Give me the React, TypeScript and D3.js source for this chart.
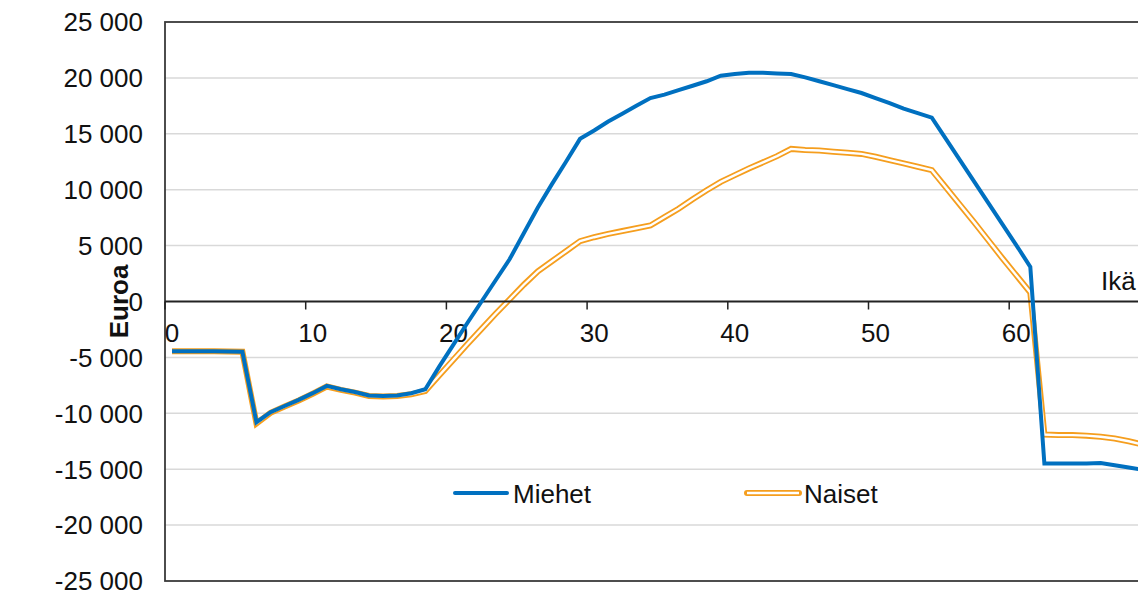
import React, {useEffect, useRef} from 'react';
import * as d3 from 'd3';

// Ikä 0..69
const ages = d3.range(0, 70);

const miehet = [
  -4450, -4450, -4450, -4450, -4480, -4500, -10800, -9900, -9350, -8800,
  -8200, -7550, -7850, -8100, -8400, -8450, -8400, -8200, -7850, -5800,
  -3850, -1900, 0, 1900, 3800, 6100, 8400, 10500, 12500, 14550,
  15300, 16100, 16800, 17500, 18200, 18500, 18900, 19300, 19700, 20200,
  20350, 20450, 20450, 20400, 20350, 20050, 19700, 19350, 19000, 18650,
  18200, 17750, 17250, 16850, 16450, 14550, 12650, 10750, 8850, 6950,
  5050, 3100, -14500, -14500, -14500, -14500, -14450, -14650, -14850, -15050,
];

const naiset = [
  -4450, -4450, -4450, -4450, -4480, -4500, -10900, -9950, -9400, -8850,
  -8250, -7600, -7900, -8150, -8450, -8500, -8450, -8300, -8000, -6600,
  -5200, -3800, -2450, -1100, 200, 1500, 2700, 3600, 4500, 5400,
  5750, 6050, 6300, 6550, 6800, 7550, 8300, 9150, 9950, 10700,
  11300, 11900, 12450, 13000, 13650, 13550, 13500, 13400, 13300, 13200,
  12950, 12650, 12350, 12050, 11750, 10200, 8650, 7100, 5500, 3900,
  2350, 800, -11900, -11950, -11950, -12000, -12100, -12250, -12500, -12800,
];

const yTicks = d3.range(-25000, 25001, 5000);
const xTicks = [0, 10, 20, 30, 40, 50, 60];

const BLUE = '#0070c0';
const ORANGE = '#f59e1e';
const FONT = 'Arial, "Liberation Sans", sans-serif';

const App: React.FC = () => {
  const svgRef = useRef<SVGSVGElement | null>(null);
  const width = 1138;
  const height = 593;

  useEffect(() => {
    if (!svgRef.current) return;
    const svg = d3.select(svgRef.current);
    svg.selectAll('*').remove();

    const left = 165;
    const top = 22;
    const bottom = 581;
    const step = 14.07;

    // category axis: tick at boundary k, point at centre k + 0.5
    const x = d3.scaleLinear().domain([0, 70]).range([left, left + 70 * step]);
    const y = d3.scaleLinear().domain([-25000, 25000]).range([bottom, top]);

    const fmt = d3
      .formatLocale({decimal: ',', thousands: ' ', grouping: [3], currency: ['', '€'], minus: '-'})
      .format(',d');

    // gridlines
    svg
      .append('g')
      .selectAll('line')
      .data(yTicks.filter((t) => t !== 0 && Math.abs(t) !== 25000))
      .enter()
      .append('line')
      .attr('x1', left)
      .attr('x2', x(70))
      .attr('y1', (d) => y(d))
      .attr('y2', (d) => y(d))
      .attr('stroke', '#d9d9d9')
      .attr('stroke-width', 1.5);

    // plot border
    svg
      .append('rect')
      .attr('x', left)
      .attr('y', top)
      .attr('width', x(70) - left)
      .attr('height', bottom - top)
      .attr('fill', 'none')
      .attr('stroke', '#3a3a3a')
      .attr('stroke-width', 1.8);

    // y tick labels
    svg
      .append('g')
      .selectAll('text')
      .data(yTicks)
      .enter()
      .append('text')
      .attr('x', 143)
      .attr('y', (d) => y(d))
      .attr('dy', '0.36em')
      .attr('text-anchor', 'end')
      .style('font-family', FONT)
      .style('font-size', '26px')
      .style('fill', '#111')
      .text((d) => fmt(d));

    svg
      .append('text')
      .attr('transform', `translate(128,${y(0)}) rotate(-90)`)
      .attr('text-anchor', 'middle')
      .style('font-family', FONT)
      .style('font-size', '26px')
      .style('font-weight', 'bold')
      .style('fill', '#111')
      .text('Euroa');

    const line = d3
      .line<number>()
      .x((_d, i) => x(ages[i] + 0.5))
      .y((d) => y(d));

    // Naiset: double line
    svg
      .append('path')
      .attr('d', line(naiset))
      .attr('fill', 'none')
      .attr('stroke', ORANGE)
      .attr('stroke-width', 6);
    svg
      .append('path')
      .attr('d', line(naiset))
      .attr('fill', 'none')
      .attr('stroke', '#fff')
      .attr('stroke-width', 2.4);

    // x axis at zero
    const axisG = svg.append('g');
    axisG
      .append('line')
      .attr('x1', left)
      .attr('x2', x(70))
      .attr('y1', y(0))
      .attr('y2', y(0))
      .attr('stroke', '#222')
      .attr('stroke-width', 2);
    axisG
      .selectAll('.tick')
      .data(xTicks)
      .enter()
      .append('line')
      .attr('x1', (d) => x(d))
      .attr('x2', (d) => x(d))
      .attr('y1', y(0))
      .attr('y2', y(0) + 8)
      .attr('stroke', '#222')
      .attr('stroke-width', 1.5);
    axisG
      .selectAll('.lbl')
      .data(xTicks)
      .enter()
      .append('text')
      .attr('x', (d) => x(d + 0.5))
      .attr('y', y(0) + 40)
      .attr('text-anchor', 'middle')
      .style('font-family', FONT)
      .style('font-size', '26px')
      .style('fill', '#111')
      .text((d) => String(d));

    axisG
      .append('text')
      .attr('x', 1101)
      .attr('y', 290)
      .style('font-family', FONT)
      .style('font-size', '26px')
      .style('fill', '#111')
      .text('Ikä');

    // Miehet on top
    svg
      .append('path')
      .attr('d', line(miehet))
      .attr('fill', 'none')
      .attr('stroke', BLUE)
      .attr('stroke-width', 4);

    // legend
    const lg = svg.append('g');
    lg.append('line')
      .attr('x1', 455)
      .attr('x2', 507)
      .attr('y1', 493)
      .attr('y2', 493)
      .attr('stroke', BLUE)
      .attr('stroke-width', 4)
      .attr('stroke-linecap', 'round');
    lg.append('text')
      .attr('x', 513)
      .attr('y', 503)
      .style('font-family', FONT)
      .style('font-size', '26px')
      .style('fill', '#111')
      .text('Miehet');
    lg.append('line')
      .attr('x1', 747)
      .attr('x2', 799)
      .attr('y1', 493)
      .attr('y2', 493)
      .attr('stroke', ORANGE)
      .attr('stroke-width', 6)
      .attr('stroke-linecap', 'round');
    lg.append('line')
      .attr('x1', 747)
      .attr('x2', 799)
      .attr('y1', 493)
      .attr('y2', 493)
      .attr('stroke', '#fff')
      .attr('stroke-width', 2.4);
    lg.append('text')
      .attr('x', 804)
      .attr('y', 503)
      .style('font-family', FONT)
      .style('font-size', '26px')
      .style('fill', '#111')
      .text('Naiset');
  }, []);

  return (
    <svg
      ref={svgRef}
      width={width}
      height={height}
      style={{position: 'absolute', left: 0, top: 0, background: '#fff'}}
    />
  );
};

export default App;
